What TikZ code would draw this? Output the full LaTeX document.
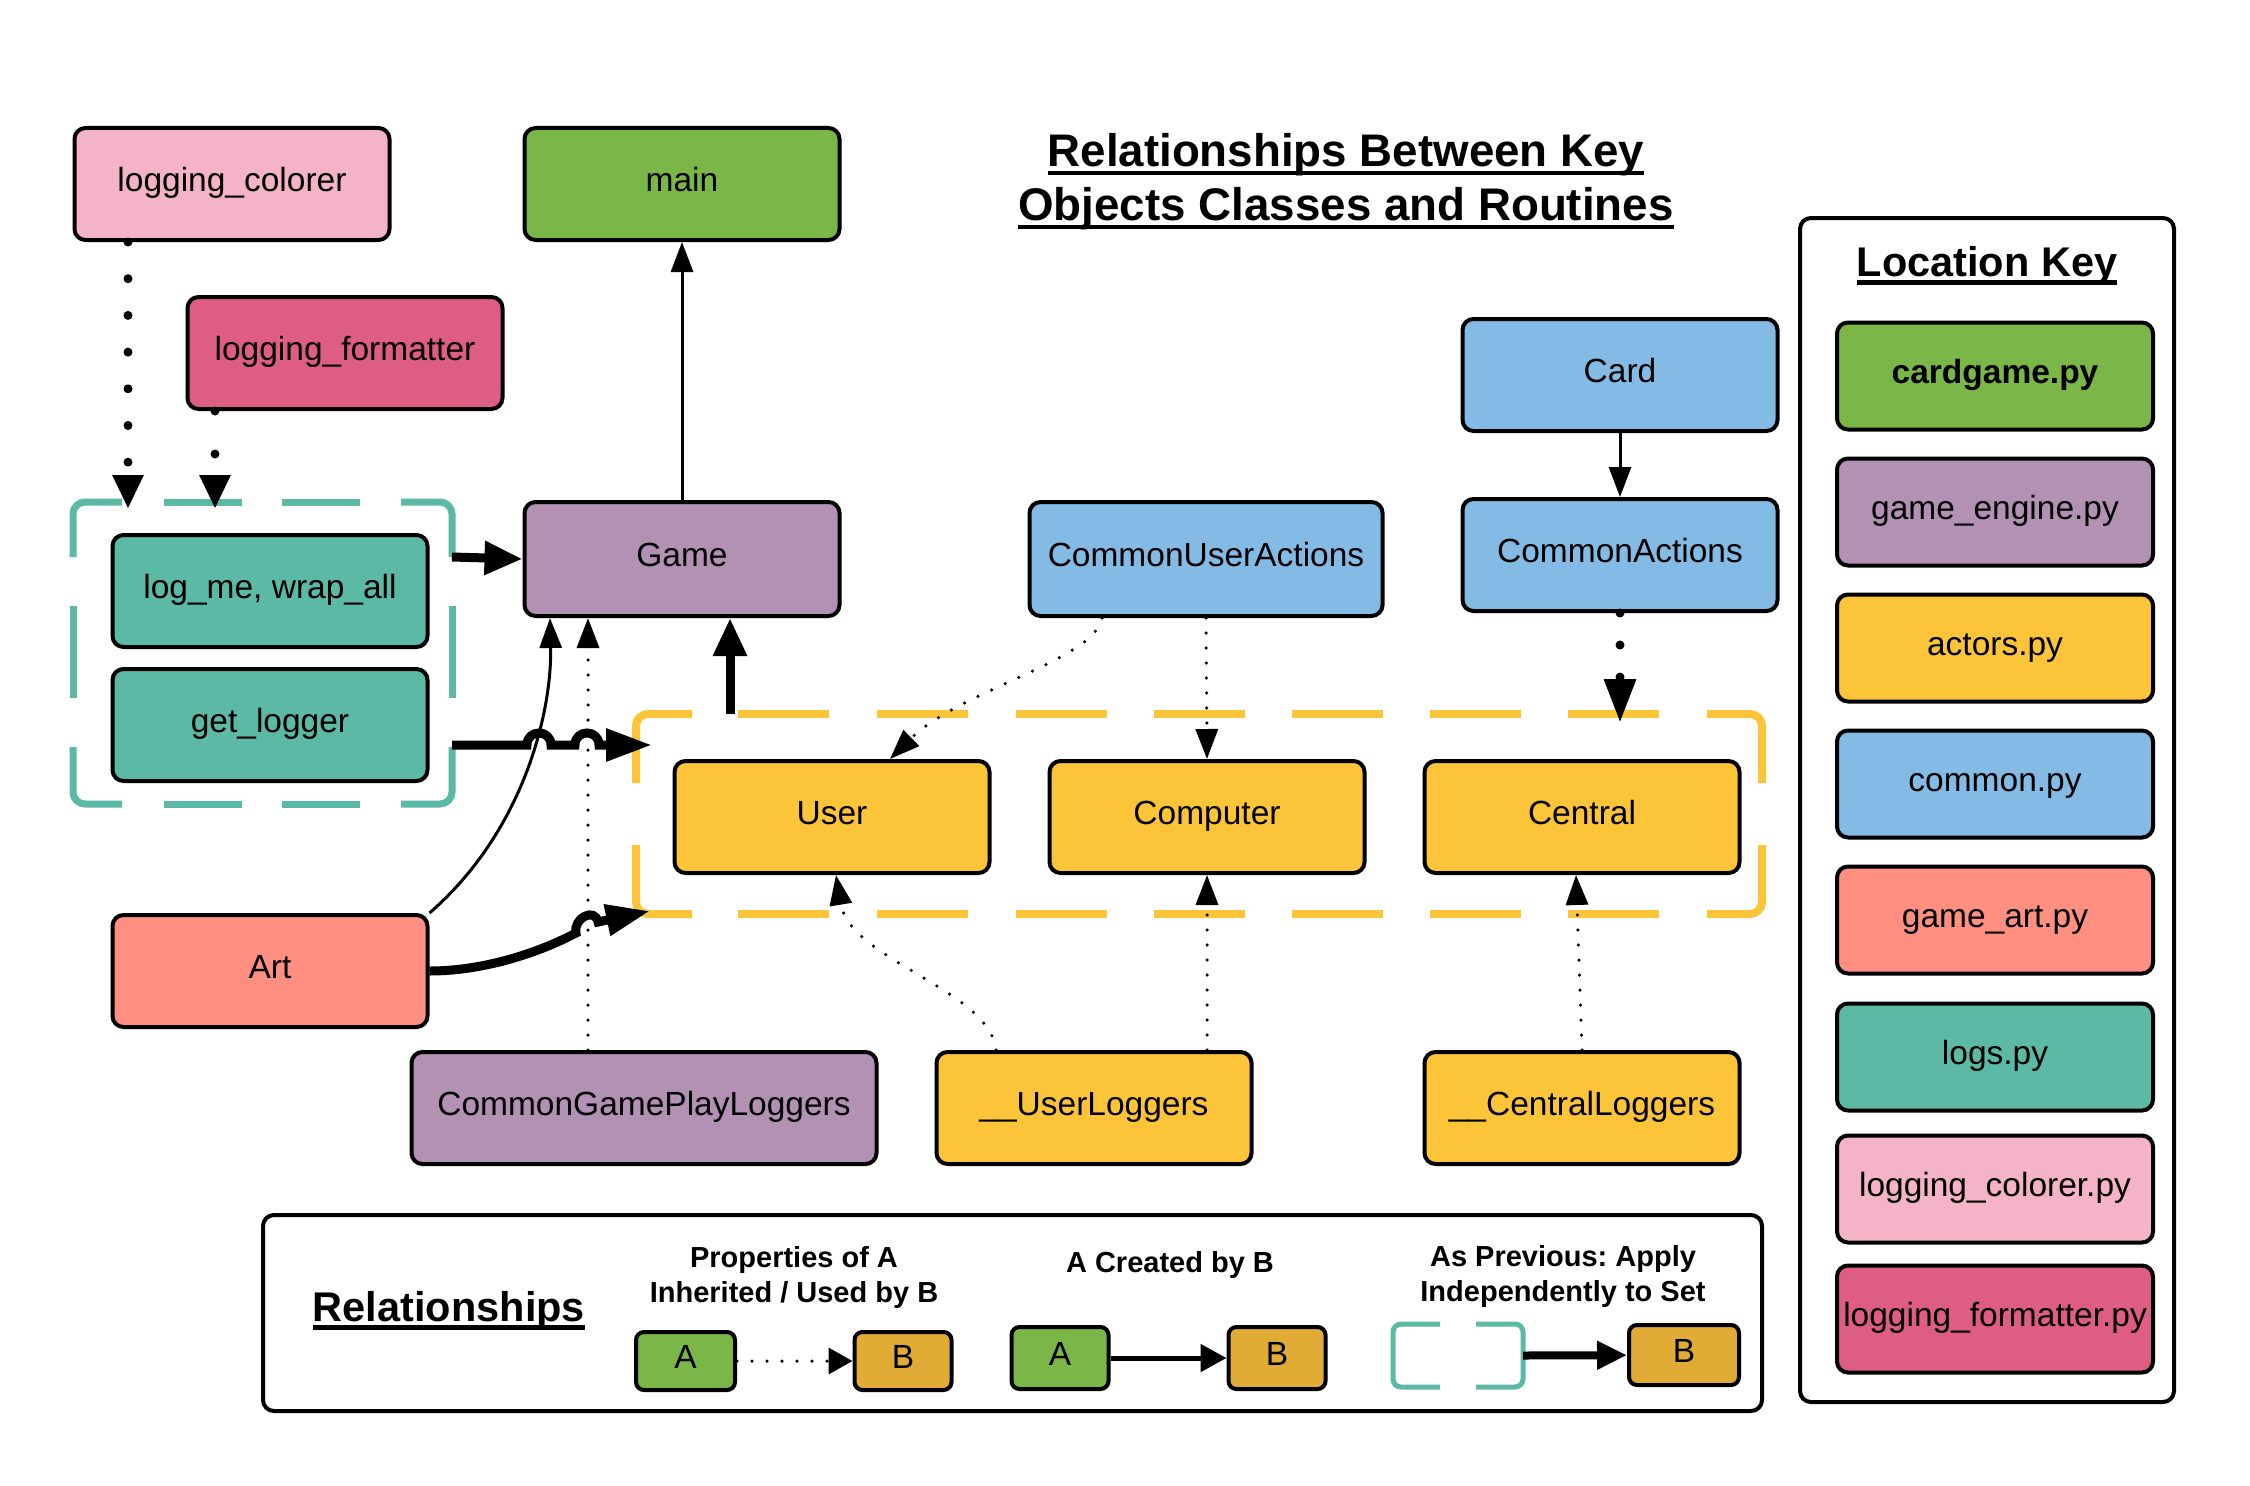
\documentclass[tikz,border=0pt]{standalone}
\usepackage{fontspec}
\setmainfont{Liberation Sans}
\usetikzlibrary{arrows.meta}
\frenchspacing
\definecolor{cgreen}{HTML}{7AB648}
\definecolor{cpurple}{HTML}{B391B5}
\definecolor{cyellow}{HTML}{FCC438}
\definecolor{cblue}{HTML}{83BBE5}
\definecolor{csalmon}{HTML}{FF8F80}
\definecolor{cteal}{HTML}{5CB9A5}
\definecolor{cpinkl}{HTML}{F4B3C7}
\definecolor{cpinkd}{HTML}{DE5D83}
\definecolor{cgold}{HTML}{E0AC36}
\newcommand\fs{\fontsize{33.5}{40}\selectfont}
\newcommand\legfs{\fontsize{29}{35}\selectfont\bfseries}
\newcommand\hdfs{\fontsize{41.5}{50}\selectfont\bfseries}
\newcommand\ttlfs{\fontsize{45.7}{54}\selectfont\bfseries}
\newcommand\ulx[1]{\setbox0=\hbox{#1}\rlap{\copy0}\rule[-0.19em]{\wd0}{0.1em}}
\tikzset{
  box/.style={draw=black, line width=4pt, rounded corners=11pt, minimum width=315pt,
    minimum height=112pt, inner sep=0pt, font=\fs, text=black,
    text height=23.5pt, text depth=8pt},
  keybox/.style={box, minimum width=316pt, minimum height=107pt},
  legbox/.style={box, rounded corners=8pt, minimum width=97pt, minimum height=60pt},
  thinarrow/.style={line width=3pt, -{Triangle[width=22pt,length=30pt]}},
  thickarrow/.style={line width=9pt, -{Triangle[width=32pt,length=38pt]}},
  smalldots/.style={line width=3.5pt, line cap=round, dash pattern=on 0pt off 15pt,
    -{Triangle[width=22pt,length=30pt]}},
  bigdots/.style={line width=9pt, line cap=round, -{Triangle[width=29pt,length=34pt]}},
  tealdash/.style={draw=cteal, line width=7pt, rounded corners=12pt},
  ydash/.style={draw=cyellow, line width=8pt, rounded corners=12pt},
  frame/.style={draw=black, line width=4pt, rounded corners=11pt, inner sep=0pt},
}
\begin{document}
\begin{tikzpicture}[x=1pt,y=-1pt]
\useasboundingbox (0,0) rectangle (2250,1485);
\fill[white] (0,0) rectangle (2250,1485);

% title
\node[font=\ttlfs, align=center] (title) at (1346,182)
  {\ulx{Relationships Between Key}\\\ulx{Objects Classes and Routines}};

% groups (invisible frames)
\node[minimum width=379pt, minimum height=302pt, inner sep=0pt] (tealgroup) at (262.5,653) {};
\node[minimum width=1126pt, minimum height=200pt, inner sep=0pt] (ygroup) at (1199,814) {};

% teal dashed frame
\draw[tealdash] (122,502) -- (73,502) -- (73,557);
\draw[tealdash] (401,502) -- (452,502) -- (452,557);
\draw[tealdash] (122,804) -- (73,804) -- (73,747);
\draw[tealdash] (401,804) -- (452,804) -- (452,747);
\draw[tealdash] (164,502) -- (242,502) (282,502) -- (360,502);
\draw[tealdash] (164,804) -- (242,804) (282,804) -- (360,804);
\draw[tealdash] (73,606) -- (73,698) (452,606) -- (452,698);

% yellow dashed frame
\draw[ydash] (692,714) -- (636,714) -- (636,783);
\draw[ydash] (1707,714) -- (1762,714) -- (1762,783);
\draw[ydash] (692,914) -- (636,914) -- (636,845);
\draw[ydash] (1707,914) -- (1762,914) -- (1762,845);
\foreach \a in {738,877,1016,1154,1292,1430,1568} {
  \draw[ydash] (\a,714) -- ++(91,0);
  \draw[ydash] (\a,914) -- ++(91,0);
}

% nodes
\node[box, fill=cpinkl] (colorer) at (232,184) {logging\_colorer};
\node[box, fill=cgreen] (main) at (682,184) {main};
\node[box, fill=cpinkd] (formatter) at (345,353) {logging\_formatter};
\node[box, fill=cteal] (logme) at (270,591) {log\_me, wrap\_all};
\node[box, fill=cteal] (getlogger) at (270,725) {get\_logger};
\node[box, fill=cpurple, minimum height=114pt] (game) at (682,559) {Game};
\node[box, fill=cblue, minimum width=353pt, minimum height=114pt] (cua) at (1206,559) {CommonUserActions};
\node[box, fill=cblue] (card) at (1620,375) {Card};
\node[box, fill=cblue] (commonactions) at (1620,555) {CommonActions};
\node[box, fill=cyellow] (user) at (832,817) {User};
\node[box, fill=cyellow] (computer) at (1207,817) {Computer};
\node[box, fill=cyellow] (central) at (1582,817) {Central};
\node[box, fill=csalmon] (art) at (270,971) {Art};
\node[box, fill=cpurple, minimum width=465pt] (cgpl) at (644,1108) {CommonGamePlayLoggers};
\node[box, fill=cyellow] (userlog) at (1094,1108) {\_\_UserLoggers};
\node[box, fill=cyellow] (centrallog) at (1582,1108) {\_\_CentralLoggers};

% named free ends
\coordinate (tgA) at (452,557);
\coordinate (tgB) at (452,745);
\coordinate (ygW) at (652,745);
\coordinate (ygBL) at (650,911);
\coordinate (ygT) at (730,714);
\coordinate (ygCA) at (1620,723);
\coordinate (tgC) at (128,509);
\coordinate (tgF) at (215,509);

% connectors
\draw[bigdots, dash pattern=on 0pt off 36.7pt] ([xshift=-104pt]colorer.south) -- (tgC);
\draw[bigdots, dash pattern=on 0pt off 43pt] ([xshift=-130pt]formatter.south) -- (tgF);
\draw[thinarrow] (game.north) -- (main.south);
\draw[thickarrow] (tgA) -- (game.west);
\draw[thinarrow] (art.north east) .. controls (525,830) and (552,710) .. ([xshift=-132pt]game.south);
\draw[smalldots] ([xshift=-56pt]cgpl.north) -- ([xshift=-94pt]game.south);
\draw[line width=9pt, -{Triangle[width=31pt,length=46pt]}] (tgB) -- (527,745)
  .. controls (527,729) and (551,729) .. (551,745) -- (575,745)
  .. controls (575,729) and (599,729) .. (599,745) -- (ygW);
\draw[line width=9pt, -{Triangle[width=30pt,length=44pt]}] (art.east)
  .. controls (485,971) and (540,952) .. (576,933)
  .. controls (573,918) and (595,907) .. (598,922) -- (ygBL);
\draw[thickarrow] (ygT) -- ([xshift=48pt]game.south);
\draw[smalldots] ([xshift=-104pt]cua.south) .. controls (1095,660) and (960,690) .. ([xshift=58pt]user.north);
\draw[smalldots] (cua.south) -- (computer.north);
\draw[thinarrow] (card.south) -- (commonactions.north);
\draw[bigdots, dash pattern=on 0pt off 32pt, -{Triangle[width=30pt,length=44pt]}] (commonactions.south) -- (ygCA);
\draw[smalldots] ([xshift=-98pt]userlog.north) .. controls (990,990) and (850,960) .. ([xshift=4pt]user.south);
\draw[smalldots] ([xshift=113pt]userlog.north) -- (computer.south);
\draw[smalldots] (centrallog.north) -- ([xshift=-6pt]central.south);

% location key
\node[frame, minimum width=374pt, minimum height=1184pt] (lockey) at (1987,810) {};
\node[font=\hdfs] (lktitle) at (1987,266) {\ulx{Location Key}};
\node[keybox, fill=cgreen, font=\fs\bfseries] (k1) at (1995,376) {cardgame.py};
\node[keybox, fill=cpurple] (k2) at (1995,512) {game\_engine.py};
\node[keybox, fill=cyellow] (k3) at (1995,648) {actors.py};
\node[keybox, fill=cblue] (k4) at (1995,784) {common.py};
\node[keybox, fill=csalmon] (k5) at (1995,920) {game\_art.py};
\node[keybox, fill=cteal] (k6) at (1995,1057) {logs.py};
\node[keybox, fill=cpinkl] (k7) at (1995,1189) {logging\_colorer.py};
\node[keybox, fill=cpinkd] (k8) at (1995,1319) {logging\_formatter.py};

% relationships legend
\node[frame, minimum width=1499pt, minimum height=196pt] (relbox) at (1012.5,1313) {};
\node[font=\hdfs] (reltitle) at (449,1311) {\ulx{Relationships}};
\node[font=\legfs, align=center] (lt1) at (794,1277) {Properties of A\\Inherited / Used by B};
\node[font=\legfs, align=center] (lt2) at (1170,1265) {A Created by B};
\node[font=\legfs, align=center] (lt3) at (1563,1276) {As Previous: Apply\\Independently to Set};
\node[legbox, fill=cgreen, minimum width=99pt, minimum height=58pt] (la1) at (685.5,1361) {A};
\node[legbox, fill=cgold, minimum height=58pt] (lb1) at (903,1361) {B};
\node[legbox, fill=cgreen, minimum height=62pt] (la2) at (1060,1358) {A};
\node[legbox, fill=cgold, minimum height=62pt] (lb2) at (1277,1358) {B};
\node[legbox, fill=cgold, minimum width=110pt] (lb3) at (1684,1355) {B};
\node[minimum width=130pt, minimum height=63pt, inner sep=0pt] (lset) at (1458,1355.5) {};
\draw[draw=cteal, line width=5pt, rounded corners=8pt] (1440,1324) -- (1393,1324) -- (1393,1387) -- (1440,1387);
\draw[draw=cteal, line width=5pt, rounded corners=8pt] (1476,1324) -- (1523,1324) -- (1523,1387) -- (1476,1387);
\draw[smalldots, -{Triangle[width=26pt,length=24pt]}] (la1) -- (lb1);
\draw[line width=5pt, -{Triangle[width=27pt,length=26pt]}] (la2) -- (lb2);
\draw[line width=8pt, -{Triangle[width=27pt,length=30pt]}] (lset.east) -- (lb3);
\end{tikzpicture}
\end{document}
